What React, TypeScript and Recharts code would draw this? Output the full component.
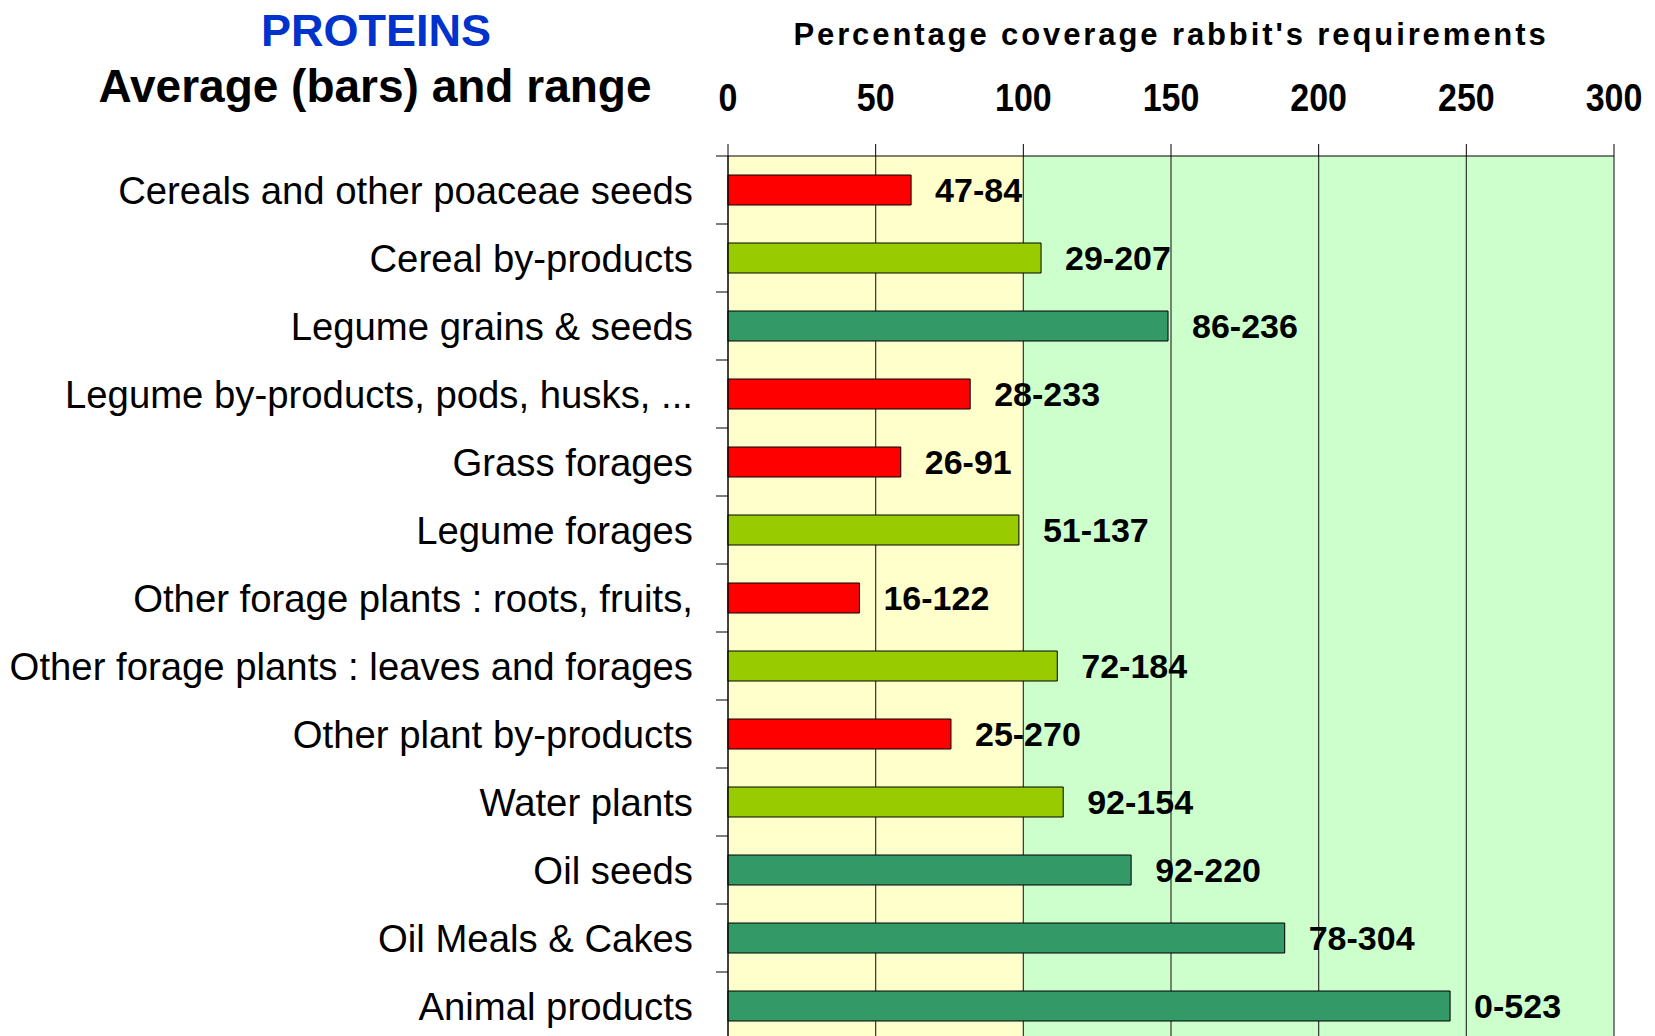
import React from "react";
import {
  Bar,
  Cell,
  XAxis,
  YAxis,
  BarChart,
  LabelList,
  CartesianGrid,
} from "recharts";

const categories = [
  "Cereals and other poaceae seeds",
  "Cereal by-products",
  "Legume grains & seeds",
  "Legume by-products, pods, husks, ...",
  "Grass forages",
  "Legume forages",
  "Other forage plants : roots, fruits,",
  "Other forage plants : leaves and forages",
  "Other plant by-products",
  "Water plants",
  "Oil seeds",
  "Oil Meals & Cakes",
  "Animal products",
];

const averages = [62, 106, 149, 82, 58.5, 98.5, 44.5, 111.5, 75.5, 113.5, 136.5, 188.5, 244.5];

const ranges = [
  "47-84",
  "29-207",
  "86-236",
  "28-233",
  "26-91",
  "51-137",
  "16-122",
  "72-184",
  "25-270",
  "92-154",
  "92-220",
  "78-304",
  "0-523",
];

const xTicks = [0, 50, 100, 150, 200, 250, 300];

const FONT = '"Liberation Sans", Arial, sans-serif';

// bar colour follows the level of coverage
function barColor(v: number) {
  if (v < 90) return "#FF0000";
  if (v < 125) return "#99CC00";
  return "#339966";
}

const data = categories.map((name, i) => ({
  name,
  avg: averages[i],
  range: ranges[i],
}));

function XTick({ x, y, payload }: any) {
  return (
    <text
      transform={`translate(${x},${y}) scale(1,1.12)`}
      textAnchor="middle"
      fontFamily={FONT}
      fontSize={34}
      fontWeight="bold"
      fill="#000"
    >
      {payload.value}
    </text>
  );
}

function YTick({ x, y, payload }: any) {
  const half = payload && payload.offset ? payload.offset : 34;
  return (
    <g>
      <text
        x={x}
        y={y}
        dy="0.355em"
        textAnchor="end"
        fontFamily={FONT}
        fontSize={38.3}
        fill="#000"
      >
        {payload.value}
      </text>
      <line x1={x + 23} x2={x + 35} y1={y - half} y2={y - half} stroke="#000" strokeWidth={1} />
    </g>
  );
}

function AxisTitle({ viewBox }: any) {
  return (
    <text
      x={viewBox.x + viewBox.width / 2}
      y={viewBox.y - 51}
      textAnchor="middle"
      fontFamily={FONT}
      fontSize={31}
      fontWeight="bold"
      letterSpacing={2.9}
      fill="#000"
    >
      Percentage coverage rabbit's requirements
    </text>
  );
}

function App() {
  return (
    <div
      style={{
        position: "absolute",
        left: 0,
        top: 0,
        width: 1655,
        height: 1036,
        overflow: "hidden",
        background: "#fff",
      }}
    >
      <svg
        width={720}
        height={130}
        style={{ position: "absolute", left: 0, top: 0 }}
      >
        <text
          x={376}
          y={46}
          textAnchor="middle"
          fontFamily={FONT}
          fontSize={45}
          fontWeight="bold"
          fill="#0033CC"
        >
          PROTEINS
        </text>
        <text
          x={375}
          y={102}
          textAnchor="middle"
          fontFamily={FONT}
          fontSize={46}
          fontWeight="bold"
          fill="#000"
        >
          Average (bars) and range
        </text>
      </svg>
      <BarChart
        width={1655}
        height={1050}
        data={data}
        layout="vertical"
        margin={{ top: 96, right: 41, left: 0, bottom: 10 }}
        barSize={30}
      >
        <CartesianGrid
          horizontal={false}
          stroke="#333"
          strokeWidth={1.2}
          verticalFill={["#FFFFCC", "#FFFFCC", "#CCFFCC", "#CCFFCC", "#CCFFCC", "#CCFFCC"]}
          fillOpacity={1}
        />
        <XAxis
          type="number"
          orientation="top"
          domain={[0, 300]}
          ticks={xTicks}
          interval={0}
          height={60}
          tickSize={12}
          tickMargin={33}
          tick={<XTick />}
          axisLine={{ stroke: "#000" }}
          tickLine={{ stroke: "#000" }}
          label={{ content: <AxisTitle /> }}
        />
        <YAxis
          type="category"
          dataKey="name"
          width={728}
          interval={0}
          tickSize={12}
          tickMargin={23}
          tickLine={false}
          axisLine={{ stroke: "#000" }}
          tick={<YTick />}
        />
        <Bar dataKey="avg" stroke="#000" strokeWidth={1} isAnimationActive={false}>
          {data.map((d, i) => (
            <Cell key={i} fill={barColor(d.avg)} />
          ))}
          <LabelList
            dataKey="range"
            position="right"
            offset={24}
            fill="#000"
            fontFamily={FONT}
            fontSize={34}
            fontWeight="bold"
          />
        </Bar>
      </BarChart>
    </div>
  );
}

export default App;
